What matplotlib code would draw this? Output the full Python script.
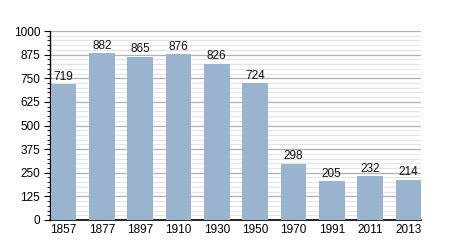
import matplotlib
matplotlib.use("Agg")
import matplotlib.pyplot as plt
from matplotlib.ticker import MultipleLocator

plt.rcParams['font.family'] = ['Liberation Sans', 'DejaVu Sans']

years = ["1857", "1877", "1897", "1910", "1930", "1950", "1970", "1991", "2011", "2013"]
population = [719, 882, 865, 876, 826, 724, 298, 205, 232, 214]

fig = plt.figure(figsize=(4.5, 2.5), dpi=100)
ax = fig.add_axes([0.111, 0.12, 0.825, 0.756])

bw = 0.67
x = range(len(years))
ax.bar(x, population, width=bw, color="#9ab4cf", zorder=3)
for xi, v in zip(x, population):
    ax.text(xi, v + 8, str(v), ha="center", va="bottom", fontsize=8.5, color="#111111", zorder=4)

ax.set_xlim(-bw / 2 - 0.02, len(years) - 1 + bw / 2)
ax.set_ylim(0, 1000)
ax.set_xticks(list(x))
ax.set_xticklabels(years)
ax.yaxis.set_major_locator(MultipleLocator(125))
ax.yaxis.set_minor_locator(MultipleLocator(25))
ax.grid(axis="y", which="major", color="#b0b0b0", linewidth=0.9, zorder=1)
ax.grid(axis="y", which="minor", color="#e4e4e4", linewidth=0.8, zorder=1)
ax.tick_params(axis="y", which="major", length=4, width=0.8, labelsize=8.5, pad=3)
ax.tick_params(axis="y", which="minor", length=2, width=0.6)
ax.tick_params(axis="x", length=0, labelsize=8.5, pad=3)
for s in ["top", "right"]:
    ax.spines[s].set_visible(False)
ax.spines["left"].set_linewidth(1.0)
ax.spines["bottom"].set_linewidth(1.2)

fig.savefig("out.png", dpi=100)
